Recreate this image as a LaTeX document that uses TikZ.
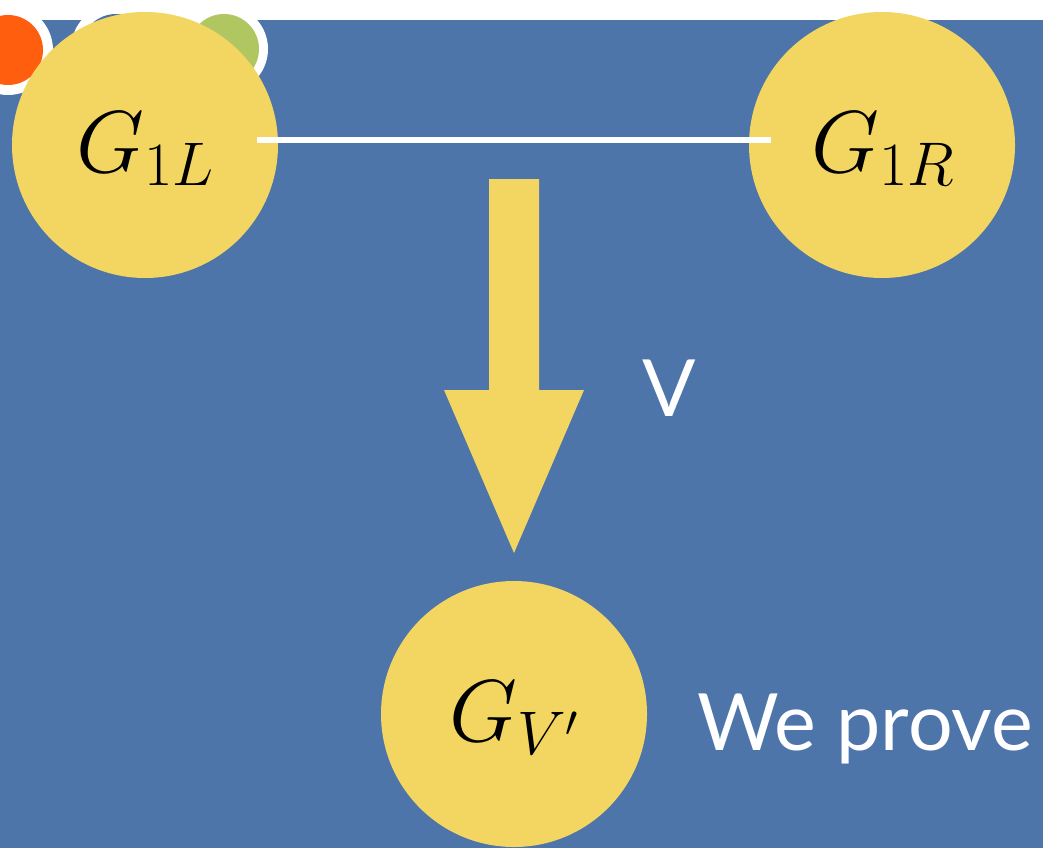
\RequirePackage{fix-cm}
\documentclass[tikz,border=0pt]{standalone}
\usepackage{fontspec}
\newfontfamily\labelfont{Lato}
\definecolor{bgblue}{RGB}{78,117,170}
\definecolor{dotblue}{RGB}{74,113,166}
\definecolor{dotorange}{RGB}{255,94,14}
\definecolor{dotgreen}{RGB}{176,198,96}
\definecolor{ballyellow}{RGB}{243,213,98}
\tikzset{
  ball/.style={circle, fill=ballyellow, minimum size=266pt, inner sep=0pt},
  balltext/.style={anchor=base, inner sep=0pt, text=black, font=\fontsize{88}{100}\selectfont},
  ring/.style={fill=white},
  lbl/.style={anchor=base west, inner sep=0pt, text=white, font=\labelfont\fontsize{79}{90}\selectfont},
}
\begin{document}
\begin{tikzpicture}[x=1pt,y=-1pt]
\useasboundingbox (0,0) rectangle (1043,848);
\fill[bgblue] (0,0) rectangle (1043,848);
\fill[white] (0,0) rectangle (1043,20);
% decorative dots
\fill[ring] (8,50) circle[radius=45];
\fill[dotorange] (8,50) circle[radius=35];
\fill[ring] (116,49) circle[radius=45];
\fill[dotblue] (116,49) circle[radius=35];
\fill[ring] (224,49) circle[radius=44];
\fill[dotgreen] (224,49) circle[radius=35];
% balls
\node[ball] (G1L) at (145,145) {};
\node[ball] (G1R) at (882,145) {};
\node[ball] (GV) at (514,714) {};
\node[balltext] (tL) at (145,172) {$G_{1L}$};
\node[balltext] (tR) at (883,172) {$G_{1R}$};
\node[balltext] (tV) at (514,741) {$G_{V'}$};
% connector
\draw[white, line width=6pt, shorten <=112pt, shorten >=111pt] ([yshift=5pt]G1L.center) -- ([yshift=5pt]G1R.center);
% arrow
\fill[ballyellow] (489,179) -- (539,179) -- (539,390) -- (584,390) -- (514,553) -- (444,390) -- (489,390) -- cycle;
% labels
\node[lbl] (V) at (642,416) {V};
\node[lbl] (wp) at (697,750) {We prove};
\end{tikzpicture}
\end{document}
